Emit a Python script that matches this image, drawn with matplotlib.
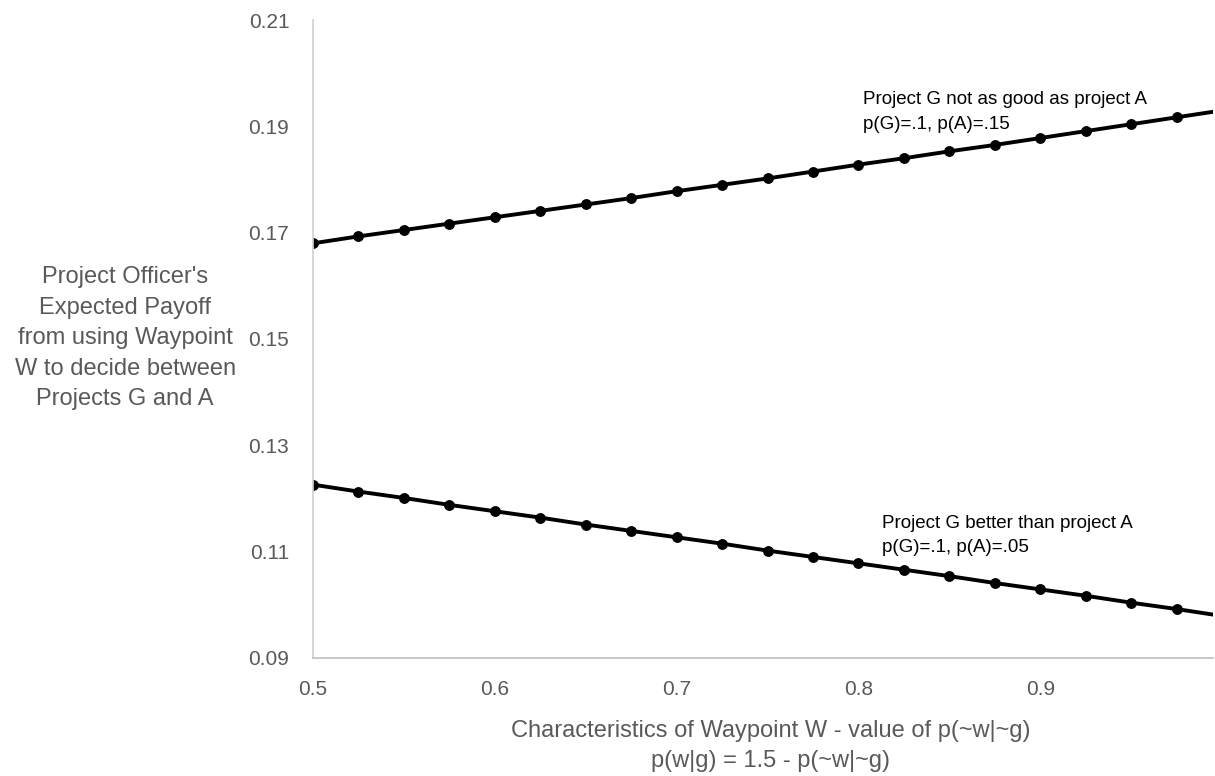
import numpy as np
import matplotlib
matplotlib.use("Agg")
import matplotlib.pyplot as plt

# ------------------------------------------------------------
# Data (markers every 0.025)
# ------------------------------------------------------------
x_vals = [0.500, 0.525, 0.550, 0.575, 0.600, 0.625, 0.650, 0.675, 0.700, 0.725,
          0.750, 0.775, 0.800, 0.825, 0.850, 0.875, 0.900, 0.925, 0.950, 0.975, 1.000]

payoff_worse = [0.1680, 0.1693, 0.1705, 0.1717, 0.1729, 0.1741, 0.1753, 0.1765, 0.1778, 0.1790,
                0.1802, 0.1815, 0.1828, 0.1840, 0.1853, 0.1865, 0.1878, 0.1891, 0.1904, 0.1917, 0.1930]

payoff_better = [0.1226, 0.1213, 0.1201, 0.1188, 0.1176, 0.1164, 0.1151, 0.1139, 0.1127, 0.1115,
                 0.1102, 0.1090, 0.1078, 0.1066, 0.1054, 0.1041, 0.1029, 0.1017, 0.1004, 0.0992, 0.0979]

y_ticks = [0.09, 0.11, 0.13, 0.15, 0.17, 0.19, 0.21]
x_ticks = [0.5, 0.6, 0.7, 0.8, 0.9]

plt.rcParams["font.family"] = ["Liberation Sans Narrow", "Liberation Sans", "DejaVu Sans"]

fig = plt.figure(figsize=(12.15, 7.76), dpi=100)
ax = fig.add_axes([0.2576, 0.1521, 0.7408, 0.8221])

for ys in (payoff_worse, payoff_better):
    ax.plot(x_vals, ys, color="black", lw=2.8, marker="o", ms=6.8, clip_on=True)

ax.set_xlim(0.5, 0.995)
ax.set_ylim(0.09, 0.21)
ax.set_xticks(x_ticks)
ax.set_yticks(y_ticks)
ax.set_xticklabels([f"{v:.1f}" for v in x_ticks])
ax.set_yticklabels([f"{v:.2f}" for v in y_ticks])
ax.tick_params(length=0, labelsize=15, labelcolor="#595959")
ax.tick_params(axis="y", pad=17)
ax.tick_params(axis="x", pad=16)

for sp in ("top", "right"):
    ax.spines[sp].set_visible(False)
ax.spines["left"].set_color("#d0d0d0")
ax.spines["bottom"].set_color("#bfbfbf")
ax.spines["left"].set_linewidth(1.2)
ax.spines["bottom"].set_linewidth(1.2)

fig.text(0.103, 0.564,
         "Project Officer's\nExpected Payoff\nfrom using Waypoint\nW to decide between\nProjects G and A",
         ha="center", va="center", fontsize=17, color="#595959", linespacing=1.5)

fig.text(0.634, 0.0385, "Characteristics of Waypoint W - value of p(~w|~g)\np(w|g) = 1.5 - p(~w|~g)",
         ha="center", va="center", fontsize=17, color="#595959", linespacing=1.5)

ax.text(0.8025, 0.1927, "Project G not as good as project A\np(G)=.1, p(A)=.15",
        ha="left", va="center", fontsize=13.5, color="black", linespacing=1.55)
ax.text(0.8130, 0.1131, "Project G better than project A\np(G)=.1, p(A)=.05",
        ha="left", va="center", fontsize=13.5, color="black", linespacing=1.55)

fig.savefig("out.png", dpi=100)
